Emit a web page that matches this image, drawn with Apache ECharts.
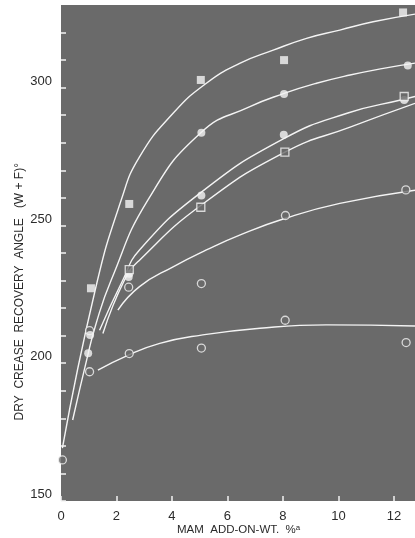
<!DOCTYPE html>
<html>
<head>
<meta charset="utf-8">
<script src="https://cdn.jsdelivr.net/npm/echarts@6/dist/echarts.min.js"></script>
<style>html,body{margin:0;padding:0;background:#fff}#c{width:415px;height:538px}</style>
</head>
<body>
<div id="c"></div>
<script>
// ---- data ----
const xTickLabels = [0, 2, 4, 6, 8, 10, 12];
const yTickLabels = [150, 200, 250, 300];

// fitted curves (sampled along each drawn curve)
const curve8 = [[0.05,169.2],[1.25,227.3],[2.17,259.2],[2.83,274.9],[4.04,290.7],[5.24,301.6],[6.44,308.8],[7.65,313.6],[8.85,317.9],[10.05,320.9],[11.25,323.9],[12.76,326.7]];
const curve4 = [[0.42,179.4],[0.93,201.4],[1.25,213.9],[1.81,230.2],[3.13,259.2],[5.06,283.8],[6.81,293.1],[8.04,297.9],[9.21,301.6],[10.42,304.6],[11.62,307.0],[12.76,308.9]];
const curve2 = [[1.39,212.0],[2.23,230.2],[2.83,241.1],[5.06,262.1],[8.03,281.5],[10.34,290.8],[12.36,295.8],[12.76,296.8]];
const curve1 = [[1.51,210.8],[2.29,230.2],[2.83,237.4],[5.06,257.4],[8.07,276.6],[10.42,285.7],[12.76,294.3]];
const curveHalf = [[2.05,219.3],[2.83,227.8],[4.04,235.0],[5.24,241.1],[6.44,246.5],[8.09,252.6],[10.05,258.0],[12.76,262.8]];
const curveUn = [[1.33,197.5],[2.35,202.6],[3.56,207.2],[5.06,210.2],[7.17,212.7],[9.57,213.9],[12.76,213.5]];

// measured points
const pts8 = [[1.08,227.2],[2.46,257.8],[5.04,302.8],[8.04,310.0],[12.33,327.3]];
const pts4 = [[1.05,210.2],[2.46,232.5],[5.06,283.6],[8.04,297.7],[12.5,308.0]];
const pts2 = [[0.98,203.6],[2.44,231.3],[5.06,260.9],[8.03,282.9],[12.37,295.5]];
const pts1 = [[2.46,234.0],[5.04,256.6],[8.07,276.6],[12.37,296.8]];
const ptsHalf = [[1.03,211.8],[2.44,227.6],[5.06,228.9],[8.09,253.6],[12.43,262.9]];
const ptsUn = [[0.05,164.9],[1.03,196.9],[2.46,203.5],[5.06,205.5],[8.08,215.6],[12.44,207.5]];

// curve labels
const curveLabels = [
  {name:'8 MRAD', value:[9.77,323.4]},
  {name:'4 MRAD', value:[9.77,306.0]},
  {name:'2 MRAD', value:[9.66,292.6]},
  {name:'1 MRAD', value:[9.84,276.6]},
  {name:'½ MRAD', value:[9.80,259.2]},
  {name:'UNIRRADIATED', value:[10.13,216.8]}
];

const BG = '#6a6a6a';
const W = '#f4f4f4';
const TXT = '#2b2b2b';

function lineS(d){
  return {type:'line', data:d, smooth:0.5, symbol:'none',
    lineStyle:{color:W, width:1.4}, silent:true, z:2};
}
function ptS(d, symbol, filled){
  return {type:'scatter', data:d, symbol:symbol, symbolSize:8,
    itemStyle:{color: filled?W:BG, borderColor:W, borderWidth: filled?0:1.3}, silent:true, z:3};
}

const chart = echarts.init(document.getElementById('c'));
chart.setOption({
  animation:false,
  backgroundColor:'#fff',
  grid:{left:61, right:0, top:5, bottom:37, show:true, backgroundColor:BG, borderWidth:0},
  xAxis:{type:'value', min:0, max:12.76, interval:2,
    axisLine:{show:false}, splitLine:{show:false},
    axisTick:{show:true, inside:true, length:5, lineStyle:{color:W, width:1.5}},
    axisLabel:{color:TXT, fontSize:13, fontFamily:'Liberation Sans, Arial, sans-serif', margin:9, showMaxLabel:false,
      formatter:v => xTickLabels.includes(v) ? String(v) : ''}
  },
  yAxis:{type:'value', min:150, max:330, interval:10,
    axisLine:{show:false}, splitLine:{show:false},
    axisTick:{show:true, inside:true, length:5, lineStyle:{color:W, width:1.5}},
    axisLabel:{color:TXT, fontSize:13, fontFamily:'Liberation Sans, Arial, sans-serif', margin:9, verticalAlign:'bottom', showMaxLabel:false,
      formatter:v => yTickLabels.includes(v) ? String(v) : ''}
  },
  graphic:[
    {type:'text', left:14, top:163, rotation:Math.PI/2,
      style:{text:'DRY  CREASE  RECOVERY  ANGLE   (W + F)°', fill:TXT, font:'12px Liberation Sans, Arial, sans-serif'},
      originX:0, originY:0},
    {type:'text', left:177, top:524,
      style:{text:'MAM  ADD-ON-WT.  %ᵃ', fill:TXT, font:'11.5px Liberation Sans, Arial, sans-serif'}}
  ],
  series:[
    lineS(curve8), lineS(curve4), lineS(curve2), lineS(curve1), lineS(curveHalf), lineS(curveUn),
    ptS(ptsHalf,'circle',false), ptS(ptsUn,'circle',false),
    ptS(pts4,'circle',true), ptS(pts2,'circle',true),
    ptS(pts1,'rect',false), ptS(pts8,'rect',true),
    {type:'scatter', data:curveLabels, symbolSize:1, itemStyle:{opacity:0}, silent:true, z:4,
      label:{show:true, position:'inside', formatter:p=>p.name, color:W, fontSize:11,
        fontFamily:'Liberation Sans, Arial, sans-serif'}}
  ]
});
</script>
</body>
</html>
